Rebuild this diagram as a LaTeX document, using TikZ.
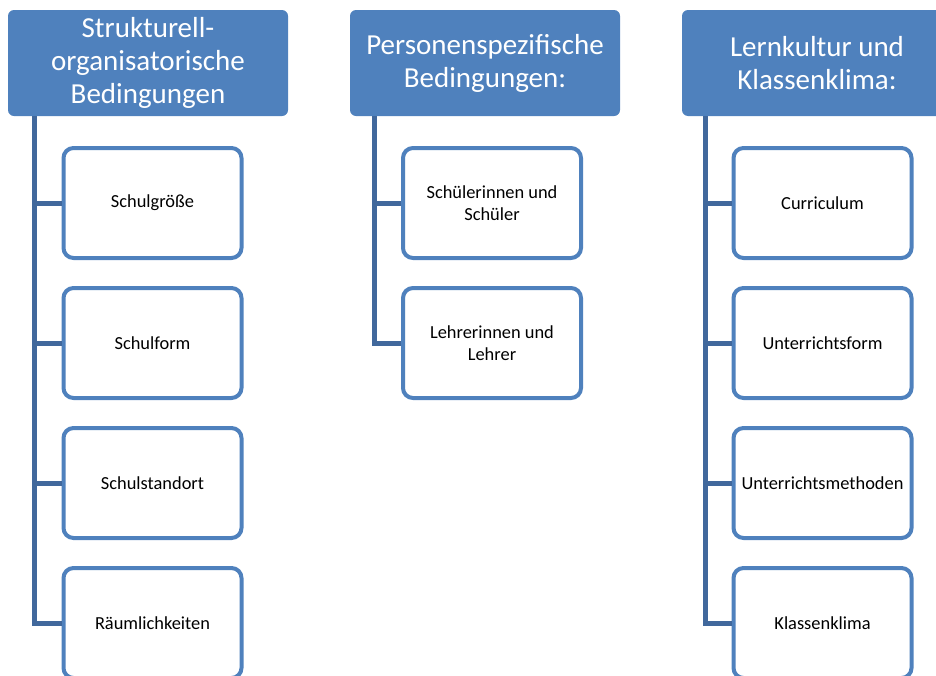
\documentclass[tikz,border=0pt]{standalone}
\usepackage{fontspec}
\setmainfont{Carlito}
\definecolor{accent}{HTML}{4F81BD}
\definecolor{connc}{HTML}{41689C}
\tikzset{
  head/.style={fill=accent, draw=none, rounded corners=6pt, minimum height=106pt,
    text=white, align=center, font=\fontsize{29}{33}\selectfont, inner sep=0pt},
  child/.style={draw=accent, line width=4pt, fill=white, rounded corners=10pt,
    minimum width=178pt, minimum height=110pt, align=center,
    font=\fontsize{18.4}{22}\selectfont, inner sep=0pt},
  conn/.style={draw=connc, line width=5pt}
}
\begin{document}
\begin{tikzpicture}[x=1pt,y=-1pt]
\clip (0,0) rectangle (936,675);
% headers
\node[head, minimum width=280pt] (h1) at (148,63) {Strukturell-\\organisatorische\\Bedingungen};
\node[head, minimum width=270pt] (h2) at (485,63) {Personenspezifische\\Bedingungen:};
\node[head, minimum width=270pt] (h3) at (817,63) {Lernkultur und\\Klassenklima:};
% children column 1
\node[child] (a1) at (152.5,203) {Schulgröße};
\node[child] (a2) at (152.5,343) {Schulform};
\node[child] (a3) at (152.5,483) {Schulstandort};
\node[child] (a4) at (152.5,623) {Räumlichkeiten};
% column 2
\node[child] (b1) at (492,203) {Schülerinnen und\\Schüler};
\node[child] (b2) at (492,343) {Lehrerinnen und\\Lehrer};
% column 3
\node[child] (c1) at (822.5,203) {Curriculum};
\node[child] (c2) at (822.5,343) {Unterrichtsform};
\node[child] (c3) at (822.5,483) {Unterrichtsmethoden};
\node[child] (c4) at (822.5,623) {Klassenklima};
% connectors
\draw[conn] ([xshift=27pt]h1.south west) |- (a4.west);
\foreach \n in {a1,a2,a3} \draw[conn] ([xshift=-27pt]\n.west) -- (\n.west);
\draw[conn] ([xshift=25pt]h2.south west) |- (b2.west);
\draw[conn] ([xshift=-26pt]b1.west) -- (b1.west);
\draw[conn] ([xshift=24pt]h3.south west) |- (c4.west);
\foreach \n in {c1,c2,c3} \draw[conn] ([xshift=-26pt]\n.west) -- (\n.west);
\end{tikzpicture}
\end{document}
